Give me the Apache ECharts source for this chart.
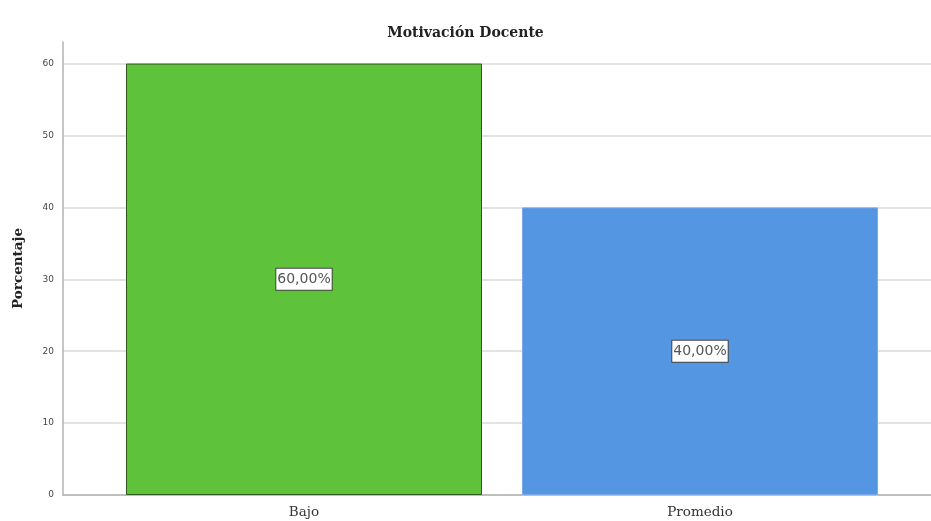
<!DOCTYPE html>
<html>
<head>
<meta charset="utf-8">
<script src="https://cdn.jsdelivr.net/npm/echarts@6/dist/echarts.min.js"></script>
<style>
html,body{margin:0;padding:0;background:#fff;}
#main{width:931px;height:521px;}
</style>
</head>
<body>
<div id="main"></div>
<script>
const titleText = 'Motivación Docente';
const yAxisName = 'Porcentaje';
const categories = ['Bajo', 'Promedio'];
const percentValues = [60, 40];
const barColors = ['#5ec23a', '#5596e3'];
const barBorders = ['#2f5a22', '#7aa8ea'];

const chart = echarts.init(document.getElementById('main'), null, {renderer: 'canvas'});
const serif = '"DejaVu Serif", "Liberation Serif", serif';
const sans = '"DejaVu Sans", "Liberation Sans", sans-serif';

chart.setOption({
  animation: false,
  backgroundColor: '#ffffff',
  title: {
    text: titleText,
    left: 'center',
    top: 21,
    textStyle: {fontFamily: serif, fontWeight: 'bold', fontSize: 14, color: '#222'}
  },
  grid: [
    {left: 106, right: 33, top: 42, bottom: 26, containLabel: false},
    {left: 63, right: 0, top: 42, bottom: 26, containLabel: false}
  ],
  xAxis: [
    {
      type: 'category', gridIndex: 0, data: categories,
      axisLine: {show: false}, axisTick: {show: false},
      axisLabel: {fontFamily: serif, fontSize: 13.5, color: '#333', margin: 10}
    },
    {
      type: 'value', gridIndex: 1, min: 0, max: 1,
      axisLine: {show: true, onZero: false, lineStyle: {color: '#b3b3b3', width: 1.5}},
      axisTick: {show: false}, axisLabel: {show: false}, splitLine: {show: false}
    }
  ],
  yAxis: [
    {
      type: 'value', gridIndex: 0, min: 0, max: 63, interval: 10,
      show: false, splitLine: {show: false}
    },
    {
      type: 'value', gridIndex: 1, min: 0, max: 63, interval: 10,
      name: yAxisName, nameLocation: 'middle', nameGap: 38, nameRotate: 90,
      nameTextStyle: {fontFamily: serif, fontWeight: 'bold', fontSize: 13.5, color: '#222'},
      axisLine: {show: true, lineStyle: {color: '#b3b3b3', width: 1.5}},
      axisTick: {show: false},
      axisLabel: {fontFamily: sans, fontSize: 9, color: '#444', margin: 9, showMaxLabel: false},
      splitLine: {show: true, showMaxLine: false, lineStyle: {color: '#dadada', width: 1.5}}
    }
  ],
  series: [{
    type: 'bar',
    xAxisIndex: 0, yAxisIndex: 0,
    barWidth: 356,
    data: percentValues.map((v, i) => ({
      value: v,
      itemStyle: {color: barColors[i], borderColor: barBorders[i], borderWidth: 1}
    })),
    label: {
      show: true, position: 'inside',
      formatter: p => p.value.toFixed(2).replace('.', ',') + '%',
      fontFamily: sans, fontSize: 14, color: '#555',
      backgroundColor: '#ffffff', borderColor: '#444', borderWidth: 1,
      padding: [4, 1, 3, 1]
    }
  }]
});
</script>
</body>
</html>
